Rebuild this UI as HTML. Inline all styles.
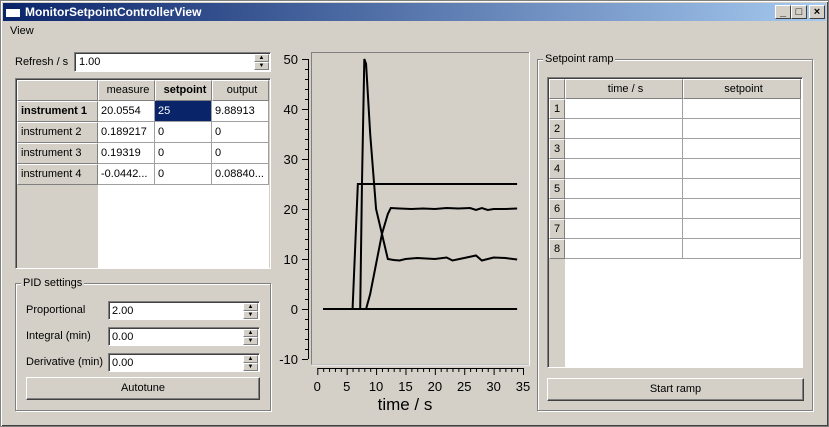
<!DOCTYPE html>
<html><head><meta charset="utf-8"><style>
*{box-sizing:border-box}
body{margin:0;width:829px;height:427px;overflow:hidden;background:#d4d0c8;font-family:"Liberation Sans","DejaVu Sans",sans-serif;font-size:11px;color:#000;position:relative}
.a{position:absolute}
.win{left:0;top:0;width:829px;height:427px;border:1px solid #808080;box-shadow:inset 1px 1px 0 #fff,inset -1px -1px 0 #404040}
.tb{left:3px;top:3px;width:823px;height:18px;background:linear-gradient(90deg,#0a246a,#a6caf0)}
.wb{top:5px;width:16px;height:14px;background:#d4d0c8;border:1px solid;border-color:#fff #404040 #404040 #fff;font-size:11px;font-weight:bold;text-align:center;line-height:12px}
.sunk{background:#fff;border:1px solid;border-color:#808080 #fff #fff #808080;box-shadow:inset 1px 1px 0 #404040}
.grp{border:1px solid #808080;box-shadow:1px 1px 0 #fff,inset 1px 1px 0 #fff}
.gt{background:#d4d0c8;padding:0 2px}
.btn{background:#d4d0c8;border:1px solid;border-color:#fff #404040 #404040 #fff;box-shadow:inset -1px -1px 0 #808080;text-align:center}
.spin{width:15px;height:8px;background:#d4d0c8;border:1px solid;border-color:#fff #808080 #808080 #fff;font-size:6px;line-height:6px;text-align:center}
.hd{background:#d4d0c8;border:1px solid;border-color:#fff #808080 #808080 #fff;padding-left:3px;line-height:19px}
.cell{background:#fff;border-right:1px solid #a0a0a0;border-bottom:1px solid #a0a0a0;padding-left:3px;line-height:20px;white-space:nowrap;overflow:hidden}
</style></head><body>
<div class="a win"></div>
<div class="a tb">
 <div class="a" style="left:3px;top:3px;width:14px;height:11px;background:#fff;border-top:3px solid #0a246a"></div>
 <div class="a" style="left:22px;top:2px;color:#fff;font-weight:bold;font-size:12px">MonitorSetpointControllerView</div>
</div>
<div class="a wb" style="left:775px">_</div>
<div class="a wb" style="left:791px">□</div>
<div class="a wb" style="left:809px">×</div>
<div class="a" style="left:10px;top:25px">View</div>

<div class="a" style="left:15px;top:56px">Refresh / s</div>
<div class="a sunk" style="left:74px;top:52px;width:197px;height:20px">
 <span class="a" style="left:4px;top:3px">1.00</span>
 <div class="a spin" style="right:1px;top:1px">▲</div><div class="a spin" style="right:1px;top:9px">▼</div>
</div>

<div class="a sunk" style="left:15px;top:78px;width:256px;height:191px;background:#d4d0c8">
 <div class="a" style="left:82px;top:105px;width:171px;height:84px;background:#fff"></div>
 <div class="a hd" style="left:1px;top:1px;width:81px;height:21px"></div>
 <div class="a hd" style="left:82px;top:1px;width:57px;height:21px;text-align:center">measure</div>
 <div class="a hd" style="left:139px;top:1px;width:57px;height:21px;text-align:center;font-weight:bold">setpoint</div>
 <div class="a hd" style="left:196px;top:1px;width:57px;height:21px;text-align:center">output</div>
 <div class="a hd" style="left:1px;top:22px;width:81px;height:21px;font-weight:bold">instrument 1</div>
 <div class="a hd" style="left:1px;top:43px;width:81px;height:21px">instrument 2</div>
 <div class="a hd" style="left:1px;top:64px;width:81px;height:21px">instrument 3</div>
 <div class="a hd" style="left:1px;top:85px;width:81px;height:21px">instrument 4</div>
 <div class="a cell" style="left:82px;top:22px;width:57px;height:21px">20.0554</div>
 <div class="a cell" style="left:139px;top:22px;width:57px;height:21px;background:#0a246a;color:#fff">25</div>
 <div class="a cell" style="left:196px;top:22px;width:57px;height:21px">9.88913</div>
 <div class="a cell" style="left:82px;top:43px;width:57px;height:21px">0.189217</div>
 <div class="a cell" style="left:139px;top:43px;width:57px;height:21px">0</div>
 <div class="a cell" style="left:196px;top:43px;width:57px;height:21px">0</div>
 <div class="a cell" style="left:82px;top:64px;width:57px;height:21px">0.19319</div>
 <div class="a cell" style="left:139px;top:64px;width:57px;height:21px">0</div>
 <div class="a cell" style="left:196px;top:64px;width:57px;height:21px">0</div>
 <div class="a cell" style="left:82px;top:85px;width:57px;height:21px">-0.0442...</div>
 <div class="a cell" style="left:139px;top:85px;width:57px;height:21px">0</div>
 <div class="a cell" style="left:196px;top:85px;width:57px;height:21px">0.08840...</div>
</div>

<div class="a grp" style="left:15px;top:283px;width:256px;height:128px"></div>
<div class="a gt" style="left:21px;top:277px">PID settings</div>
<div class="a" style="left:26px;top:304px">Proportional</div>
<div class="a" style="left:26px;top:330px">Integral (min)</div>
<div class="a" style="left:26px;top:356px">Derivative (min)</div>
<div class="a sunk" style="left:108px;top:301px;width:152px;height:19px"><span class="a" style="left:3px;top:3px">2.00</span><div class="a spin" style="right:1px;top:1px">▲</div><div class="a spin" style="right:1px;top:9px">▼</div></div>
<div class="a sunk" style="left:108px;top:327px;width:152px;height:19px"><span class="a" style="left:3px;top:3px">0.00</span><div class="a spin" style="right:1px;top:1px">▲</div><div class="a spin" style="right:1px;top:9px">▼</div></div>
<div class="a sunk" style="left:108px;top:353px;width:152px;height:19px"><span class="a" style="left:3px;top:3px">0.00</span><div class="a spin" style="right:1px;top:1px">▲</div><div class="a spin" style="right:1px;top:9px">▼</div></div>
<div class="a btn" style="left:26px;top:377px;width:234px;height:23px;line-height:21px">Autotune</div>

<svg class="a" style="left:0;top:0" width="829" height="427">
 <rect x="311.5" y="52.5" width="218" height="312" fill="#d4d0c8" stroke="#808080"/>
 <line x1="311.5" y1="365" x2="530" y2="365" stroke="#fff"/><line x1="529.5" y1="52" x2="529.5" y2="365" stroke="#fff"/>
 <g id="yax"></g>
 <g id="xax"></g>
 <g id="series"></g>
 <text x="405" y="410" font-size="17" text-anchor="middle" font-family="Liberation Sans,sans-serif">time / s</text>
</svg>

<div class="a grp" style="left:537px;top:59px;width:276px;height:352px"></div>
<div class="a gt" style="left:543px;top:53px">Setpoint ramp</div>
<div class="a sunk" style="left:547px;top:77px;width:256px;height:291px;background:#fff">
 <div class="a" style="left:1px;top:1px;width:16px;height:288px;background:#d4d0c8"></div>
 <div class="a hd" style="left:1px;top:1px;width:16px;height:20px"></div>
 <div class="a hd" style="left:17px;top:1px;width:118px;height:20px;text-align:center">time / s</div>
 <div class="a hd" style="left:135px;top:1px;width:118px;height:20px;text-align:center">setpoint</div>
 <div id="ramprows"></div>
</div>
<div class="a btn" style="left:547px;top:378px;width:257px;height:23px;line-height:21px">Start ramp</div>

<script>
const yTicks=[-10,0,10,20,30,40,50];
const xTicks=[0,5,10,15,20,25,30,35];
const setT=[1,6,6.9,7.1,34];
const setV=[0,0,25,25,25];
const outT=[1,7.3,7.6,8,8.3,9,10,11,12,13,14,15,17,20,22,23,25,27,28,30,32,34];
const outV=[0,0,25,50,49,35,20,15,10,9.8,9.7,10,10.2,10,10.3,9.7,10.2,10.7,9.7,10.3,10.2,9.9];
const meaT=[1,8.3,9,10,11,12,12.5,14,16,18,20,22,24,26,27,28,29,30,32,34];
const meaV=[0,0,3,9,15,19,20.2,20.1,20,20.1,20,20.2,20.1,20.2,19.8,20.2,19.8,20,20,20.1];
const zeroT=[1,34];
const zeroV=[0,0];
const NS='http://www.w3.org/2000/svg';
const X=t=>317.3+t*(523-317.3)/35;
const Y=v=>309-v*5;
function mk(tag,at,par){const e=document.createElementNS(NS,tag);for(const k in at)e.setAttribute(k,at[k]);par.appendChild(e);return e;}
const ya=document.getElementById('yax'),xa=document.getElementById('xax'),sg=document.getElementById('series');
mk('line',{x1:308.5,y1:Y(50),x2:308.5,y2:Y(-10),stroke:'#000'},ya);
for(let v=-10;v<=50;v+=2){mk('line',{x1:v%10===0?302:305,y1:Y(v)+.5,x2:308,y2:Y(v)+.5,stroke:'#000'},ya);}
yTicks.forEach(v=>{const t=mk('text',{x:298,y:Y(v)+5,'text-anchor':'end','font-size':13,'font-family':'Liberation Sans,sans-serif'},ya);t.textContent=v;

});
mk('line',{x1:X(0),y1:368.5,x2:X(35),y2:368.5,stroke:'#000'},xa);
for(let t=0;t<=35;t++){mk('line',{x1:X(t)+.5,y1:368,x2:X(t)+.5,y2:t%5===0?375:372,stroke:'#000'},xa);}
xTicks.forEach(v=>{const t=mk('text',{x:X(v),y:391,'text-anchor':'middle','font-size':13,'font-family':'Liberation Sans,sans-serif'},xa);t.textContent=v;

});
function line(T,V,name){const p=mk('polyline',{points:T.map((t,i)=>X(t)+','+Y(V[i])).join(' '),fill:'none',stroke:'#000','stroke-width':2},sg);

}
line(zeroT,zeroV,'zero-series');
line(setT,setV,'setpoint-series');
line(outT,outV,'output-series');
line(meaT,meaV,'measure-series');
const rr=document.getElementById('ramprows');
for(let i=0;i<8;i++){const y=21+i*20;
const h=document.createElement('div');h.className='a hd';h.style.cssText=`left:1px;top:${y}px;width:16px;height:20px;padding-left:4px`;h.textContent=i+1;


rr.appendChild(h);
for(let c=0;c<2;c++){const d=document.createElement('div');d.className='a cell';d.style.cssText=`left:${17+c*118}px;top:${y}px;width:118px;height:20px`;


rr.appendChild(d);}}
</script>
</body></html>
